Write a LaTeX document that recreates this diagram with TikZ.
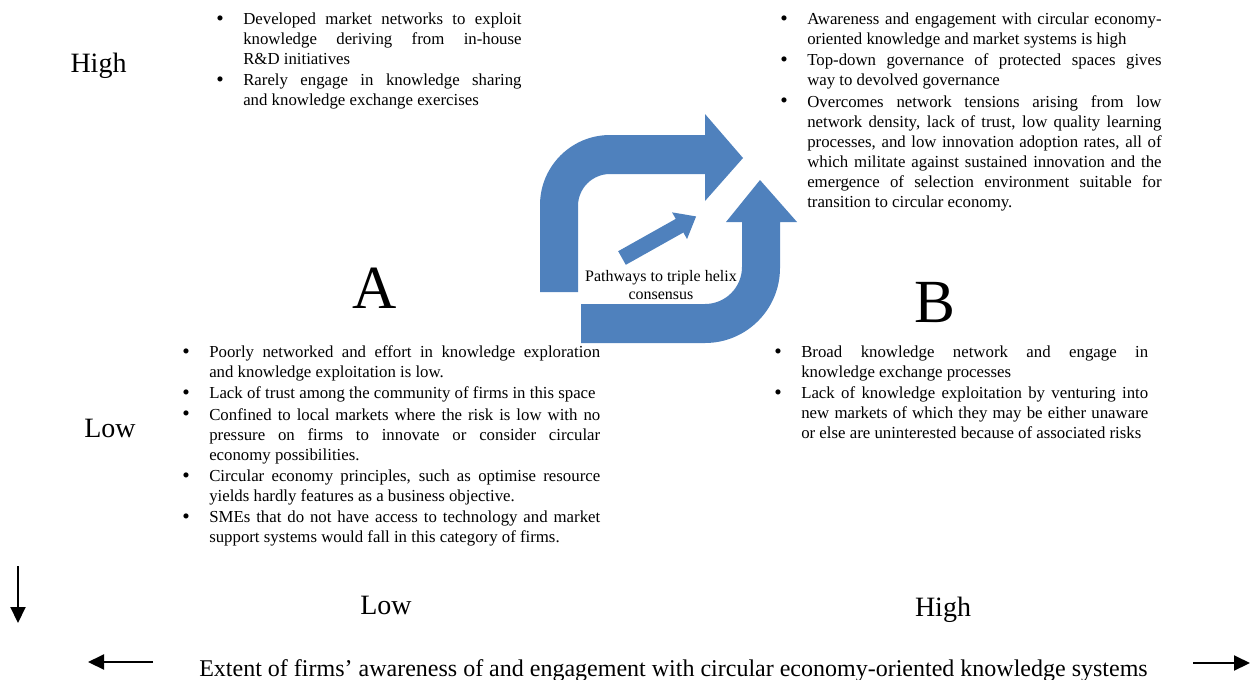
\documentclass[tikz,border=0pt]{standalone}
\usepackage{fontspec}
\setmainfont{Liberation Serif}
\usetikzlibrary{arrows.meta}
\definecolor{helixblue}{HTML}{4F81BD}
\newlength{\bulletind}
\setlength{\bulletind}{20.25pt}
\newcommand{\bitem}{\par\noindent\hangindent=\bulletind\hangafter=1\strut\makebox[\bulletind][l]{\raisebox{-0.4pt}{\fontsize{16}{15}\selectfont\textbullet}}}
\tikzset{
  blocktext/.style={anchor=north west, inner sep=0pt, align=justify,
    font=\fontsize{12.6}{15}\selectfont,
    execute at begin node={\hyphenpenalty=10000\exhyphenpenalty=10000\tolerance=9999\hbadness=10000\parskip=1pt}},
  axislabel/.style={anchor=base, inner sep=0pt, font=\fontsize{21}{25}\selectfont},
  quadlabel/.style={anchor=base, inner sep=0pt, font=\fontsize{46}{50}\selectfont},
  axisarrow/.style={line width=1.5pt, -{Triangle[length=12pt,width=11.25pt]}}
}

\begin{document}
\begin{tikzpicture}[x=0.75pt,y=-0.75pt]
    \useasboundingbox (0,0) rectangle (1250,679);
    \fill[helixblue] (540,292) -- (540,205) .. controls (540,166.3) and (571.3,135) .. (610,135) -- (705,135) -- (705,114) -- (743,158) -- (705,201) -- (705,174) -- (610,174) .. controls (592.3,174) and (578,188.3) .. (578,206) -- (578,292) -- cycle;
    \fill[helixblue] (581,304) -- (705,304) .. controls (725.4,304) and (742,287.4) .. (742,267) -- (742,222) -- (726,222) -- (760,180) -- (797,222) -- (780,222) -- (780,268) .. controls (780,309.4) and (746.4,343) .. (705,343) -- (581,343) -- cycle;
    \fill[helixblue, shift={(622,258)}, rotate=29.3] (0,-7.8) -- (66,-7.8) -- (66,-15.3) -- (85,0) -- (66,15.3) -- (66,7.8) -- (0,7.8) -- cycle;
    \node[align=center, inner sep=0pt, font=\fontsize{12}{13.5}\selectfont] (helix) at (661,285.5) {Pathways to triple helix\\consensus};

    \node[blocktext, text width=229pt] (hilo) at (216,3) {%
      \bitem Developed market networks to exploit\linebreak knowledge deriving from in-house\linebreak R\&D initiatives
      \bitem Rarely engage in knowledge sharing\linebreak and knowledge exchange exercises\par};
    \node[blocktext, text width=286pt] (hihi) at (780,3) {%
      \bitem Awareness and engagement with circular economy-\linebreak oriented knowledge and market systems is high
      \bitem Top-down governance of protected spaces gives\linebreak way to devolved governance
      \bitem Overcomes network tensions arising from low\linebreak network density, lack of trust, low quality learning\linebreak processes, and low innovation adoption rates, all of\linebreak which militate against sustained innovation and the\linebreak emergence of selection environment suitable for\linebreak transition to circular economy.\par};
    \node[blocktext, text width=313.5pt] (lolo) at (182,336) {%
      \bitem Poorly networked and effort in knowledge exploration\linebreak and knowledge exploitation is low.
      \bitem Lack of trust among the community of firms in this space
      \bitem Confined to local markets where the risk is low with no\linebreak pressure on firms to innovate or consider circular\linebreak economy possibilities.
      \bitem Circular economy principles, such as optimise resource\linebreak yields hardly features as a business objective.
      \bitem SMEs that do not have access to technology and market\linebreak support systems would fall in this category of firms.\par};
    \node[blocktext, text width=280.5pt] (lohi) at (774,336) {%
      \bitem Broad knowledge network and engage in\linebreak knowledge exchange processes
      \bitem Lack of knowledge exploitation by venturing into\linebreak new markets of which they may be either unaware\linebreak or else are uninterested because of associated risks\par};

    \node[quadlabel] (quadA) at (375,308) {A};
    \node[quadlabel] (quadB) at (935,322) {B};
    \foreach \txt/\px/\py/\nm in {High/98.5/72.7/yhigh, Low/110/437.5/ylow, Low/386/614.3/xlow, High/943/616/xhigh}
      \node[axislabel] (\nm) at (\px,\py) {\txt};

    \node[anchor=base, inner sep=0pt, font=\fontsize{18}{21}\selectfont] (xtitle) at (673.5,676) {Extent of firms' awareness of and engagement with circular economy-oriented knowledge systems};
    \coordinate (ytail) at (18,566);
    \coordinate (ytip) at (18,623);
    \coordinate (ltail) at (153,662);
    \coordinate (ltip) at (88,662);
    \coordinate (rtail) at (1193,663);
    \coordinate (rtip) at (1250,663);
    \draw[axisarrow] (ytail) -- (ytip);
    \draw[axisarrow] (ltail) -- (ltip);
    \draw[axisarrow] (rtail) -- (rtip);
\end{tikzpicture}
\end{document}
